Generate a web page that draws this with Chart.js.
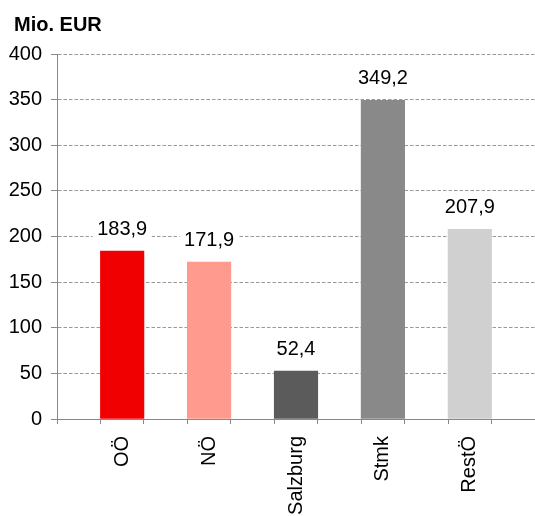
<!DOCTYPE html>
<html>
<head>
<meta charset="utf-8">
<script src="https://cdn.jsdelivr.net/npm/chart.js@4"></script>
<style>
  html, body { margin: 0; padding: 0; background: #fff; }
  #wrap { width: 535px; height: 516px; }
</style>
</head>
<body>
<div id="wrap"><canvas id="chart"></canvas></div>
<script>
// values (Mio. EUR)
const categories = ['OÖ', 'NÖ', 'Salzburg', 'Stmk', 'RestÖ'];
const values = [183.9, 171.9, 52.4, 349.2, 207.9];
const barColors = ['#f00000', '#ff9b8e', '#5b5b5b', '#898989', '#d0d0d0'];
const yTicks = [0, 50, 100, 150, 200, 250, 300, 350, 400];
const unitLabel = 'Mio. EUR';

const FONT = "'Liberation Sans', Arial, sans-serif";
const fmt = v => v.toFixed(1).replace('.', ',');

// tick marks sit on the bar edges (Excel style), labels on the bar centres
function buildXTicks(axis) {
  const list = [{ value: -0.75 }];
  categories.forEach((c, i) => {
    list.push({ value: i - 0.25 }, { value: i }, { value: i + 0.25 });
  });
  axis.ticks = list;
}

// unit caption top left (the title plugin can't be nudged sideways)
const unitCaption = {
  id: 'unitCaption',
  afterDraw(chart) {
    const ctx = chart.ctx;
    ctx.save();
    ctx.font = 'bold 20px ' + FONT;
    ctx.fillStyle = '#000';
    ctx.textAlign = 'left';
    ctx.textBaseline = 'middle';
    ctx.fillText(unitLabel, 14, 25);
    ctx.restore();
  }
};

// value labels above the bars, on a white box
const valueLabels = {
  id: 'valueLabels',
  afterDatasetsDraw(chart) {
    const ctx = chart.ctx;
    const meta = chart.getDatasetMeta(0);
    ctx.save();
    ctx.font = '20px ' + FONT;
    ctx.textAlign = 'center';
    ctx.textBaseline = 'middle';
    meta.data.forEach((bar, i) => {
      const txt = fmt(values[i]);
      const w = ctx.measureText(txt).width + 9;
      const cy = bar.y - 22;
      ctx.fillStyle = '#fff';
      ctx.fillRect(bar.x - w / 2, cy - 14, w, 28);
      ctx.fillStyle = '#000';
      ctx.fillText(txt, bar.x, cy);
    });
    ctx.restore();
  }
};

new Chart(document.getElementById('chart'), {
  type: 'bar',
  data: {
    datasets: [{
      data: values.map((v, i) => ({ x: i, y: v })),
      backgroundColor: barColors,
      barThickness: 43.5,
      borderWidth: 0
    }]
  },
  options: {
    responsive: true,
    maintainAspectRatio: false,
    animation: false,
    layout: { padding: { left: 0, right: 0, top: 54, bottom: 0 } },
    plugins: {
      legend: { display: false },
      tooltip: { enabled: false },
      title: { display: false }
    },
    scales: {
      x: {
        type: 'linear',
        min: -0.75,
        max: 4.75,
        offset: false,
        afterBuildTicks: buildXTicks,
        afterFit: s => { s.height = 97; },
        grid: {
          display: true,
          offset: false,
          drawOnChartArea: false,
          tickLength: 5,
          tickColor: c => Number.isInteger(c.tick && c.tick.value) ? 'rgba(0,0,0,0)' : '#888'
        },
        border: { display: true, color: '#888', width: 1 },
        ticks: {
          autoSkip: false,
          minRotation: 90,
          maxRotation: 90,
          padding: 12,
          color: '#000',
          font: { family: FONT, size: 20 },
          callback: v => Number.isInteger(v) ? categories[v] : ''
        }
      },
      y: {
        min: 0,
        max: 400,
        afterBuildTicks: axis => { axis.ticks = yTicks.map(v => ({ value: v })); },
        afterFit: s => { s.width = 57; },
        grid: {
          color: '#999',
          tickColor: '#888',
          tickLength: 6,
          tickBorderDash: []
        },
        border: { display: true, color: '#888', width: 1, dash: [3.5, 2] },
        ticks: {
          padding: 9,
          color: '#000',
          font: { family: FONT, size: 20 },
          callback: v => String(v)
        }
      }
    }
  },
  plugins: [valueLabels, unitCaption]
});
</script>
</body>
</html>
